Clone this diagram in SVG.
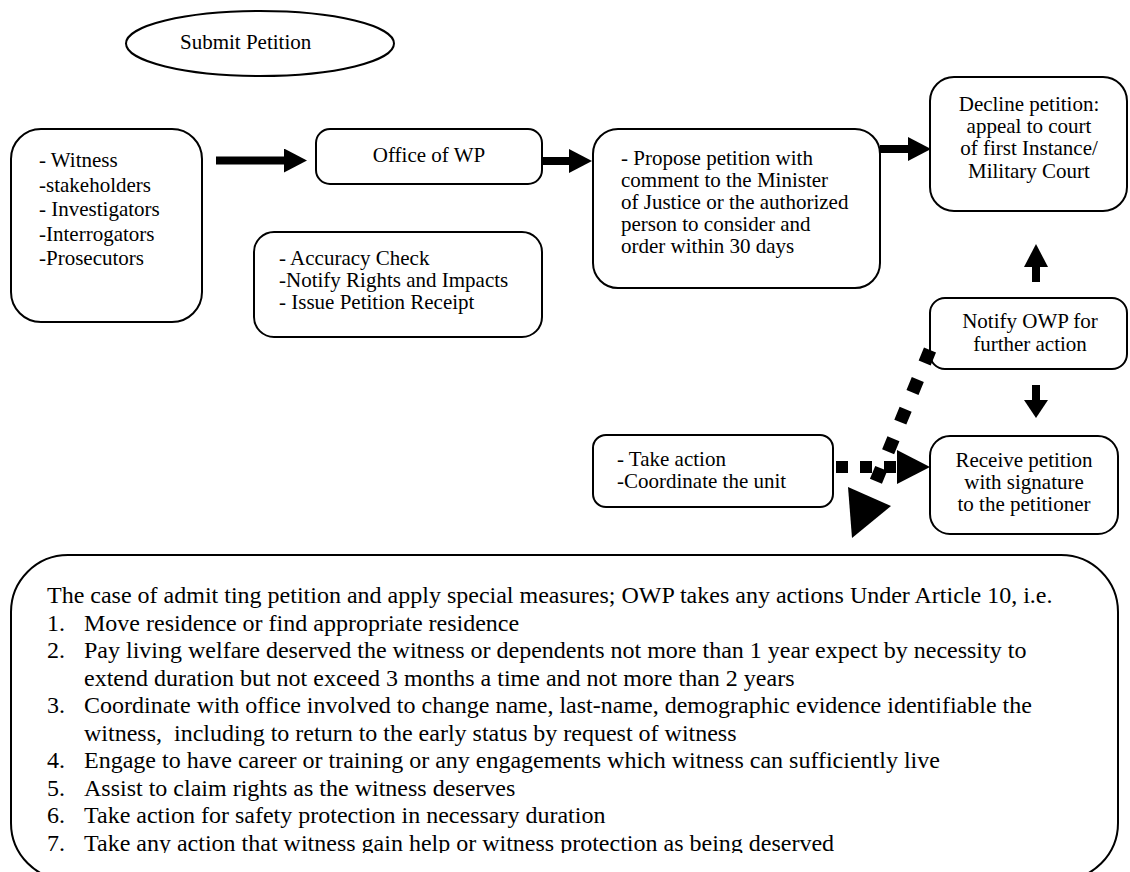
<svg xmlns="http://www.w3.org/2000/svg" width="1130" height="872" viewBox="0 0 1130 872">
<style>
.box{fill:#fff;stroke:#000;stroke-width:2}
.t{font-family:"Liberation Serif","Times New Roman",serif;font-size:21px;fill:#000}
.c{text-anchor:middle}
.b{font-family:"Liberation Serif","Times New Roman",serif;font-size:24px;fill:#000;white-space:pre}
.shaft{stroke:#000;stroke-width:8;fill:none}
.dot{stroke:#000;fill:none;stroke-linecap:butt}
</style>
<defs>
<marker id="head" viewBox="0 0 23 24" refX="0" refY="12" markerWidth="23" markerHeight="24" markerUnits="userSpaceOnUse" orient="auto"><path d="M0,0 L23,12 L0,24 z" fill="#000"/></marker>
<marker id="headShort" viewBox="0 0 18 24" refX="0" refY="12" markerWidth="18" markerHeight="24" markerUnits="userSpaceOnUse" orient="auto"><path d="M0,0 L18,12 L0,24 z" fill="#000"/></marker>
<marker id="dotHead" viewBox="0 0 33 34" refX="0" refY="17" markerWidth="33" markerHeight="34" markerUnits="userSpaceOnUse" orient="auto"><path d="M0,0 L33,17 L0,34 z" fill="#000"/></marker>
<clipPath id="bclip"><rect x="0" y="555" width="1130" height="298"/></clipPath>
</defs>

<g id="submit-petition">
<ellipse class="box" cx="260" cy="43.5" rx="134" ry="32.5"/>
<text class="t" x="180" y="49">Submit Petition</text>
</g>

<g id="witness">
<rect class="box" x="11" y="129" width="191" height="193" rx="30"/>
<text class="t" x="39" y="167">- Witness</text>
<text class="t" x="39" y="191.5">-stakeholders</text>
<text class="t" x="39" y="216">- Investigators</text>
<text class="t" x="39" y="240.5">-Interrogators</text>
<text class="t" x="39" y="265">-Prosecutors</text>
</g>

<g id="office-wp">
<rect class="box" x="316" y="129" width="226" height="55" rx="14"/>
<text class="t c" x="429" y="162">Office of WP</text>
</g>

<g id="accuracy">
<rect class="box" x="254" y="232" width="288" height="105" rx="20"/>
<text class="t" x="279" y="264.5">- Accuracy Check</text>
<text class="t" x="279" y="286.5">-Notify Rights and Impacts</text>
<text class="t" x="279" y="308.5">- Issue Petition Receipt</text>
</g>

<g id="propose">
<rect class="box" x="593" y="129" width="287" height="159" rx="25"/>
<text class="t" x="621" y="164.5">- Propose petition with</text>
<text class="t" x="621" y="186.5">comment to the Minister</text>
<text class="t" x="621" y="208.5">of Justice or the authorized</text>
<text class="t" x="621" y="230.5">person to consider and</text>
<text class="t" x="621" y="252.5">order within 30 days</text>
</g>

<g id="decline">
<rect class="box" x="930" y="77" width="197" height="134" rx="24"/>
<text class="t c" x="1029" y="111">Decline petition:</text>
<text class="t c" x="1029" y="133">appeal to court</text>
<text class="t c" x="1029" y="155">of first Instance/</text>
<text class="t c" x="1029" y="177.5">Military Court</text>
</g>

<g id="notify">
<rect class="box" x="930" y="298" width="197" height="71" rx="15"/>
<text class="t c" x="1030" y="328">Notify OWP for</text>
<text class="t c" x="1030" y="350.5">further action</text>
</g>

<g id="take-action">
<rect class="box" x="593" y="435" width="240" height="72" rx="13"/>
<text class="t" x="617" y="466">- Take action</text>
<text class="t" x="617" y="488">-Coordinate the unit</text>
</g>

<g id="receive">
<rect class="box" x="930" y="436" width="188" height="98" rx="20"/>
<text class="t c" x="1024" y="466.5">Receive petition</text>
<text class="t c" x="1024" y="488.5">with signature</text>
<text class="t c" x="1024" y="511">to the petitioner</text>
</g>

<g id="special-measures">
<rect class="box" x="11" y="555" width="1107" height="325" rx="57"/>
<g clip-path="url(#bclip)">
<text class="b" x="47" y="603">The case of admit ting petition and apply special measures; OWP takes any actions Under Article 10, i.e.</text>
<text class="b" x="47" y="631">1.</text><text class="b" x="84" y="631">Move residence or find appropriate residence</text>
<text class="b" x="47" y="658">2.</text><text class="b" x="84" y="658">Pay living welfare deserved the witness or dependents not more than 1 year expect by necessity to</text>
<text class="b" x="84" y="686">extend duration but not exceed 3 months a time and not more than 2 years</text>
<text class="b" x="47" y="713">3.</text><text class="b" x="84" y="713">Coordinate with office involved to change name, last-name, demographic evidence identifiable the</text>
<text class="b" x="84" y="741" xml:space="preserve">witness,  including to return to the early status by request of witness</text>
<text class="b" x="47" y="768">4.</text><text class="b" x="84" y="768">Engage to have career or training or any engagements which witness can sufficiently live</text>
<text class="b" x="47" y="796">5.</text><text class="b" x="84" y="796">Assist to claim rights as the witness deserves</text>
<text class="b" x="47" y="823">6.</text><text class="b" x="84" y="823">Take action for safety protection in necessary duration</text>
<text class="b" x="47" y="851">7.</text><text class="b" x="84" y="851">Take any action that witness gain help or witness protection as being deserved</text>
</g>
</g>

<g id="connectors">
<line class="shaft" x1="216" y1="160.5" x2="284" y2="160.5" marker-end="url(#head)"/>
<line class="shaft" x1="542" y1="161" x2="569" y2="161" marker-end="url(#head)"/>
<line class="shaft" x1="880" y1="149" x2="908" y2="149" marker-end="url(#head)"/>
<line class="shaft" x1="1036" y1="282" x2="1036" y2="267" marker-end="url(#head)"/>
<line class="shaft" x1="1036" y1="385" x2="1036" y2="400" marker-end="url(#headShort)"/>
<line class="dot" x1="836" y1="467" x2="897" y2="467" stroke-width="12" stroke-dasharray="12 12" marker-end="url(#dotHead)"/>
<line class="dot" x1="930" y1="350" x2="875.9" y2="481.4" stroke-width="13" stroke-dasharray="14 18"/>
<polygon points="848,487 891,506 852,538" fill="#000"/>
</g>
</svg>
